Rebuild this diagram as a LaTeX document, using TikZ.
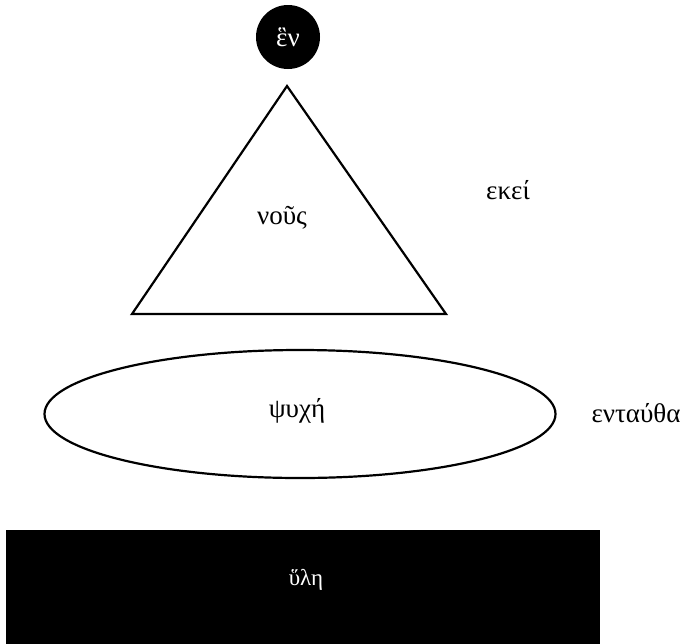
\documentclass[tikz,border=0pt]{standalone}
\usepackage{fontspec}
\setmainfont{Liberation Serif}
\usetikzlibrary{shapes.geometric}
\begin{document}
\begin{tikzpicture}[x=1pt,y=-1pt,
  lbl/.style={font=\fontsize{27}{30}\selectfont, inner sep=0pt},
  smalllbl/.style={font=\fontsize{23}{26}\selectfont, inner sep=0pt},
  shapeline/.style={draw=black, line width=2.2pt}]
\useasboundingbox (0,0) rectangle (688,643);
\fill[white] (0,0) rectangle (688,643);
% one
\node[circle, fill=black, minimum size=64pt, inner sep=0pt, lbl, text=white] (hen) at (288,37) {ἓν};
% triangle
\coordinate (apex) at (287,86);
\coordinate (bl) at (132,314);
\coordinate (br) at (446,314);
\draw[shapeline, line join=miter] (apex) -- (br) -- (bl) -- cycle;
\node[lbl] (nous) at (282,218) {νοῦς};
\node[lbl] (ekei) at (508,190) {εκεί};
% soul
\node[ellipse, shapeline, minimum width=511pt, minimum height=128pt, inner sep=0pt] (psyche) at (300,414) {};
\node[lbl] (psychet) at (297,411) {ψυχή};
\node[lbl] (entautha) at (636,413) {ενταύθα};
% matter
\node[rectangle, fill=black, minimum width=594pt, minimum height=116pt, inner sep=0pt] (hyle) at (303,588) {};
\node[smalllbl, text=white] (hylet) at (306,580) {ὕλη};
\end{tikzpicture}
\end{document}
